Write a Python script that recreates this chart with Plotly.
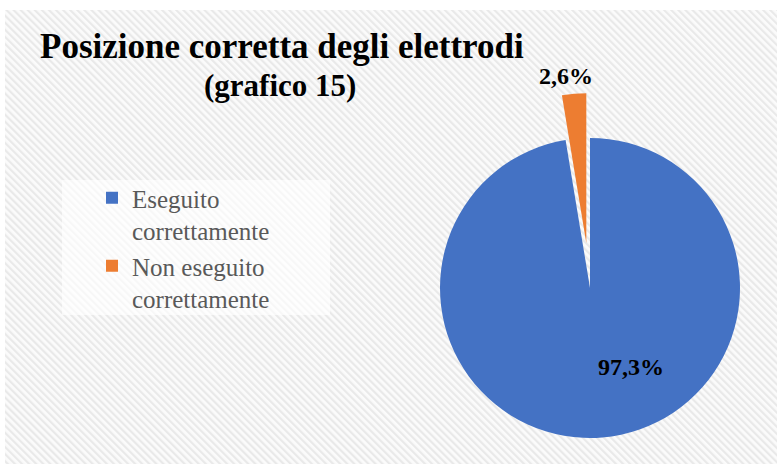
import math
import base64
import plotly.graph_objects as go

# ---- data ----
categories = ["Eseguito<br>correttamente", "Non eseguito<br>correttamente"]
values = [97.3, 2.6]
colors = ["#4472C4", "#ED7D31"]
title_line1 = "Posizione corretta degli elettrodi"
title_line2 = "(grafico 15)"

# ---- geometry / style ----
W, H = 777, 464
CX, CY, R = 590, 288, 150      # pie centre & radius (px)
EXPLODE = 45                   # explosion distance of the small slice (px)
SERIF = "Liberation Serif"
TRANSPARENT = "rgba(0,0,0,0)"


def domain(cx, cy, r):
    return dict(x=[(cx - r) / W, (cx + r) / W],
                y=[1 - (cy + r) / H, 1 - (cy - r) / H])


def fmt(v):
    return f"{v:.1f}".replace(".", ",") + "%"


# direction of the exploded slice (clockwise from 12 o'clock)
total = sum(values)
start_deg = values[0] / total * 360
mid_deg = start_deg + values[1] / total * 180
a = math.radians(mid_deg)
dx = EXPLODE * math.sin(a)
dy = -EXPLODE * math.cos(a)

common = dict(labels=categories, values=values, sort=False,
              direction="clockwise", rotation=0, hoverinfo="skip",
              textinfo="none")

fig = go.Figure()

# legend carrier (tiny, invisible pie)
fig.add_trace(go.Pie(labels=categories, values=values, sort=False,
                     marker=dict(colors=colors, line=dict(width=0)),
                     textinfo="none", hoverinfo="skip",
                     domain=dict(x=[0.0, 0.0002], y=[0.0, 0.0002]),
                     showlegend=True))

# main pie with a slot where the exploded slice was
fig.add_trace(go.Pie(**common,
                     marker=dict(colors=[colors[0], TRANSPARENT], line=dict(width=0)),
                     domain=domain(CX, CY, R), showlegend=False))

# exploded slice
fig.add_trace(go.Pie(**common,
                     marker=dict(colors=[TRANSPARENT, colors[1]], line=dict(width=0)),
                     domain=domain(CX + dx, CY + dy, R), showlegend=False))

# hatched background as an SVG image
svg = ("<svg xmlns='http://www.w3.org/2000/svg' width='772' height='454'>"
       "<defs><pattern id='h' width='5' height='5' patternUnits='userSpaceOnUse' "
       "patternTransform='rotate(-45)'>"
       "<rect width='5' height='5' fill='#fbfbfb'/>"
       "<rect width='2.2' height='5' fill='#e9e9e9'/></pattern></defs>"
       "<rect width='100%' height='100%' fill='url(#h)'/></svg>")
src = "data:image/svg+xml;base64," + base64.b64encode(svg.encode()).decode()

label_font = dict(family=SERIF, size=24, color="black", weight="bold")

fig.update_layout(
    width=W, height=H,
    margin=dict(l=0, r=0, t=0, b=0),
    paper_bgcolor="white",
    images=[dict(source=src, xref="paper", yref="paper",
                 x=5 / W, y=1 - 10 / H, sizex=772 / W, sizey=454 / H,
                 xanchor="left", yanchor="top", sizing="stretch",
                 layer="below")],
    shapes=[dict(type="rect", xref="paper", yref="paper",
                 x0=62 / W, x1=330 / W, y0=1 - 315 / H, y1=1 - 180 / H,
                 fillcolor="rgba(255,255,255,0.65)", line=dict(width=0),
                 layer="below")],
    legend=dict(x=92 / W, y=1 - 175 / H, xanchor="left", yanchor="top",
                bgcolor="rgba(0,0,0,0)", valign="top",
                font=dict(family=SERIF, size=25, color="#595959")),
    annotations=[
        dict(text=title_line1, xref="paper", yref="paper",
             x=282 / W, y=1 - 47 / H, xanchor="center", yanchor="middle",
             showarrow=False,
             font=dict(family=SERIF, size=35, color="black", weight="bold")),
        dict(text=title_line2, xref="paper", yref="paper",
             x=280 / W, y=1 - 85 / H, xanchor="center", yanchor="middle",
             showarrow=False,
             font=dict(family=SERIF, size=31, color="black", weight="bold")),
        dict(text=fmt(values[0]), xref="paper", yref="paper",
             x=631 / W, y=1 - 367 / H, xanchor="center", yanchor="middle",
             showarrow=False, font=label_font),
        dict(text=fmt(values[1]), xref="paper", yref="paper",
             x=566 / W, y=1 - 76 / H, xanchor="center", yanchor="middle",
             showarrow=False, font=label_font),
    ],
)

fig.write_html("out.html")
